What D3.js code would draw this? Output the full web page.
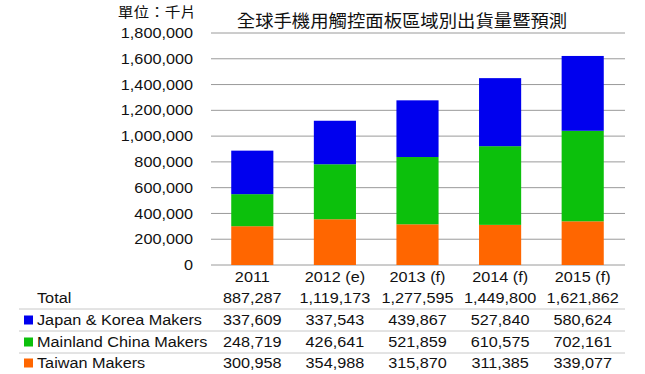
<!DOCTYPE html>
<html>
<head>
<meta charset="utf-8">
<script src="https://cdn.jsdelivr.net/npm/d3@7"></script>
<style>
  body { margin: 0; background: #fff; }
  text { font-family: "Liberation Sans", Arial, sans-serif; fill: #111; }
  .cjk { font-family: "Noto Sans CJK TC", "Noto Sans CJK SC", sans-serif; }
</style>
</head>
<body>
<svg id="chart" width="645" height="374"></svg>
<script>
// chart data
const years = ["2011", "2012 (e)", "2013 (f)", "2014 (f)", "2015 (f)"];
const totals = [887287, 1119173, 1277595, 1449800, 1621862];
const taiwan = [300958, 354988, 315870, 311385, 339077];
const mainland = [248719, 426641, 521859, 610575, 702161];
const japanKorea = [337609, 337543, 439867, 527840, 580624];
const yTicks = [0, 200000, 400000, 600000, 800000, 1000000, 1200000, 1400000, 1600000, 1800000];

const seriesNames = ["Japan & Korea Makers", "Mainland China Makers", "Taiwan Makers"];
const seriesColors = ["#0000ee", "#0cc00c", "#ff6600"];

const svg = d3.select("#chart");
const fmt = d3.format(",");

const x = d3.scaleBand().domain(years).range([211, 624]).paddingInner(0.49).paddingOuter(0.245);
const y = d3.scaleLinear().domain([0, 1800000]).range([265, 33]);

// text helper, the source image is a bit stretched horizontally
function label(g, tx, ty, str, anchor, size, sx) {
  return g.append("text")
    .attr("transform", `translate(${tx},${ty}) scale(${sx || 1.12},1)`)
    .attr("text-anchor", anchor)
    .attr("dy", "0.35em")
    .style("font-size", size + "px")
    .text(str);
}

// gridlines
svg.append("g").selectAll("line")
  .data(yTicks)
  .enter()
  .append("line")
  .attr("x1", 211).attr("x2", 625)
  .attr("y1", d => y(d)).attr("y2", d => y(d))
  .style("stroke", "#9a9a9a")
  .style("stroke-width", 1);

// y tick labels
const yl = svg.append("g");
yTicks.forEach(t => label(yl, 193, y(t), fmt(t), "end", 14.5));

// stacked bars: taiwan at the bottom, then mainland, then japan & korea
const stackData = years.map((yr, i) => ({ year: yr, tw: taiwan[i], cn: mainland[i], jk: japanKorea[i] }));
const stack = d3.stack().keys(["tw", "cn", "jk"])(stackData);
const keyColor = { tw: seriesColors[2], cn: seriesColors[1], jk: seriesColors[0] };

svg.append("g").selectAll("g")
  .data(stack)
  .enter()
  .append("g")
  .attr("fill", d => keyColor[d.key])
  .selectAll("rect")
  .data(d => d)
  .enter()
  .append("rect")
  .attr("x", d => x(d.data.year))
  .attr("width", x.bandwidth())
  .attr("y", d => y(d[1]))
  .attr("height", d => y(d[0]) - y(d[1]));

// title and unit
label(svg, 402, 21, "全球手機用觸控面板區域別出貨量暨預測", "middle", 17, 1.08).attr("class", "cjk");
label(svg, 157, 12, "單位：千片", "middle", 14, 1.12).attr("class", "cjk");

// data table under the chart
const table = svg.append("g");
const rowY = [277, 298, 320, 342, 363];
years.forEach(yr => label(table, x(yr) + x.bandwidth() / 2, rowY[0], yr, "middle", 14.5));

label(table, 37, rowY[1], "Total", "start", 14.5);
totals.forEach((v, i) => label(table, x(years[i]) + x.bandwidth() / 2, rowY[1], fmt(v), "middle", 14.5));

const rows = [japanKorea, mainland, taiwan];
rows.forEach((vals, r) => {
  const ry = rowY[r + 2];
  table.append("rect")
    .attr("x", 24).attr("y", ry - 4.5)
    .attr("width", 9).attr("height", 9)
    .attr("fill", seriesColors[r]);
  label(table, 37, ry, seriesNames[r], "start", 14.5);
  vals.forEach((v, i) => label(table, x(years[i]) + x.bandwidth() / 2, ry, fmt(v), "middle", 14.5));
});

// row separators
table.selectAll("line.sep")
  .data([309, 331, 353])
  .enter()
  .append("line")
  .attr("x1", 19).attr("x2", 625)
  .attr("y1", d => d).attr("y2", d => d)
  .style("stroke", "#c8c8c8")
  .style("stroke-width", 1);
</script>
</body>
</html>
